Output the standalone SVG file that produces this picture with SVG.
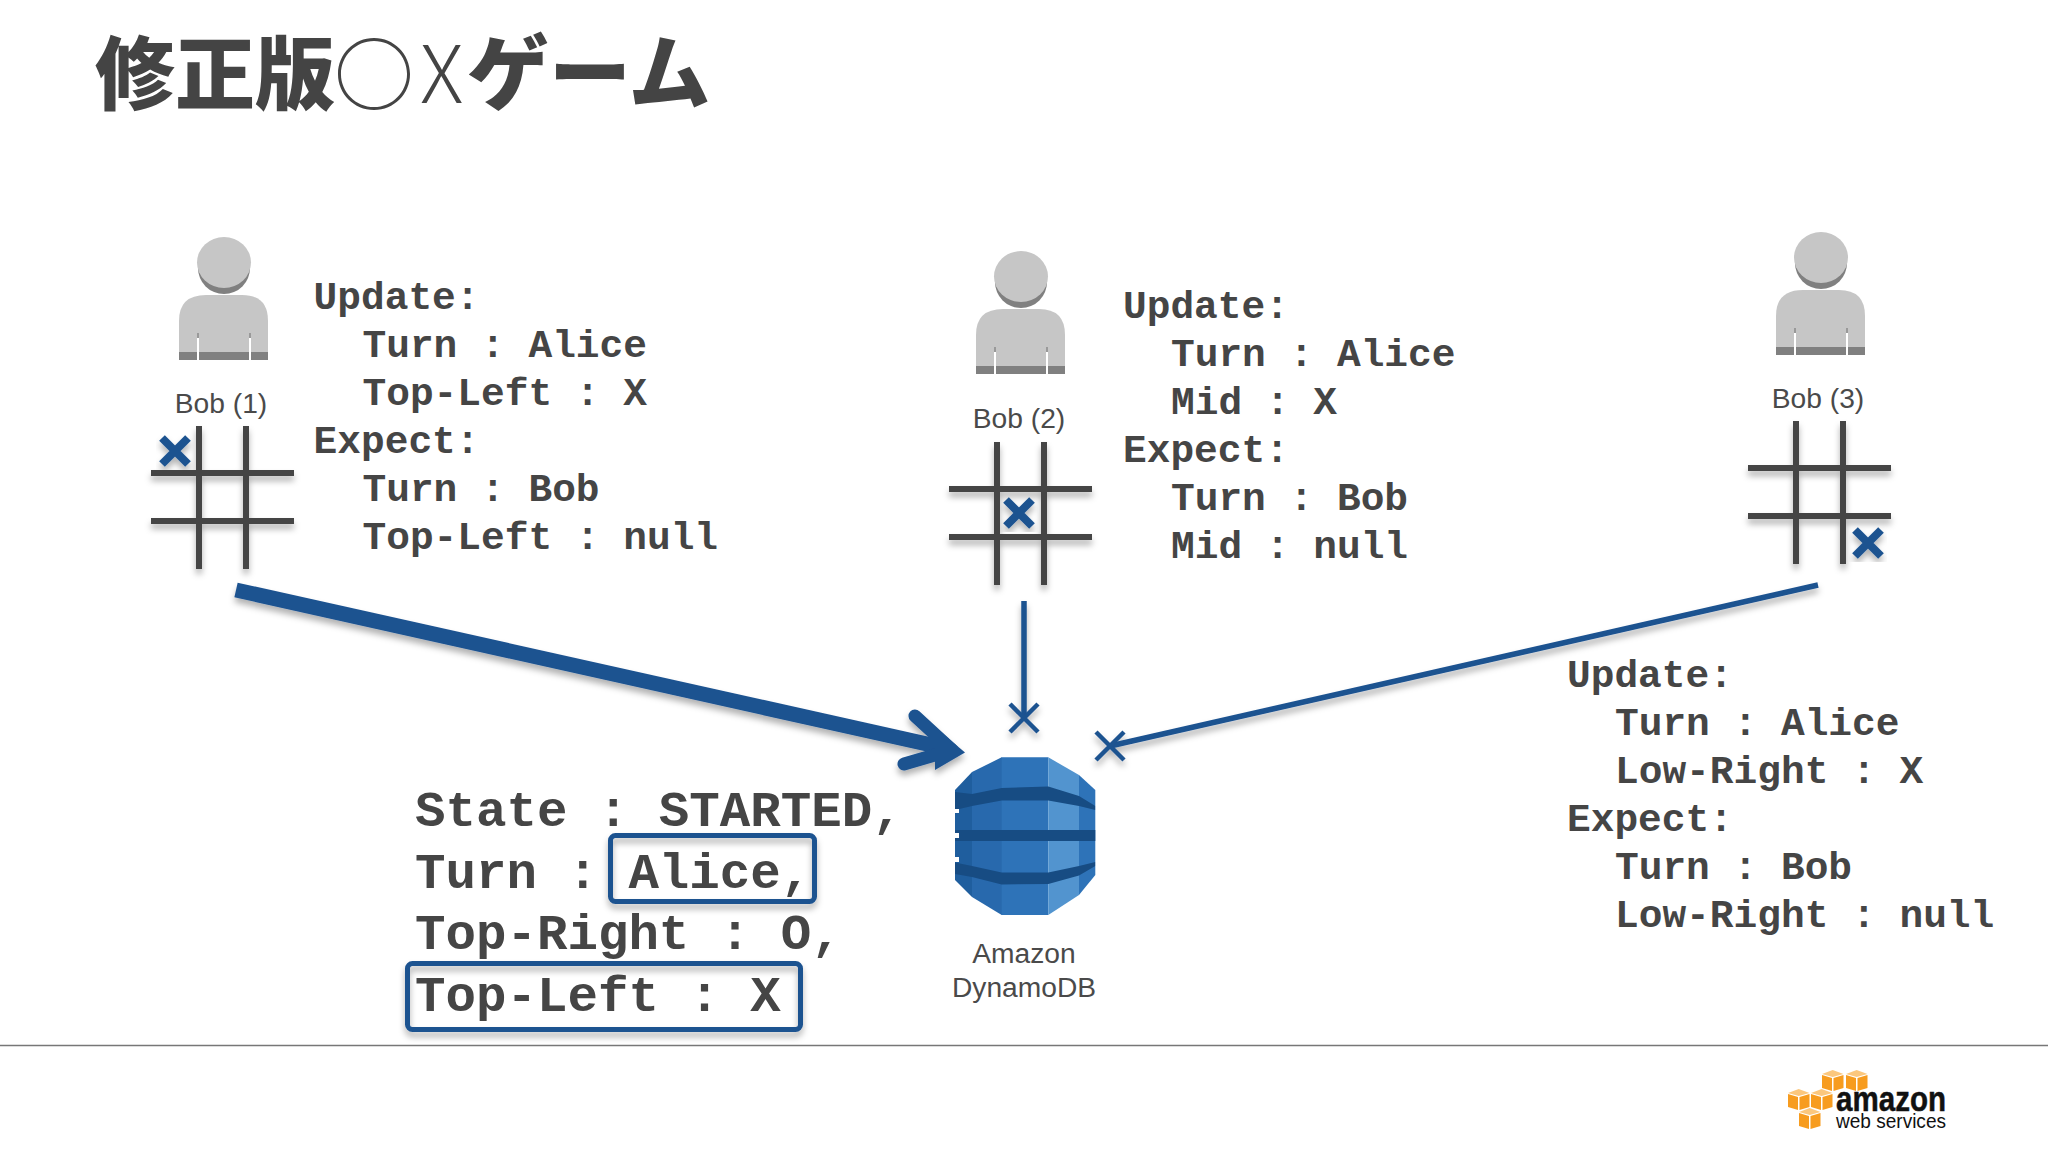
<svg xmlns="http://www.w3.org/2000/svg" width="2048" height="1152" viewBox="0 0 2048 1152">
<style>
.code{font-family:"Liberation Mono",monospace;font-weight:700;font-size:39.5px;fill:#454545}
.state{font-family:"Liberation Mono",monospace;font-weight:700;font-size:50.8px;fill:#454545}
.lbl{font-family:"Liberation Sans",Arial,sans-serif;font-size:28.2px;fill:#4a4a4a;text-anchor:middle}
.tb{font-family:"Noto Sans CJK JP",sans-serif;font-weight:900;font-size:80px;fill:#444}
.tl{font-family:"Noto Sans CJK JP",sans-serif;font-weight:300;font-size:80px;fill:#444}
.gl{stroke:#444;stroke-width:6;fill:none}
.xm{stroke:#1c5290;stroke-width:8;fill:none}
.cx{stroke:#1c5290;stroke-width:4.5;fill:none}
.box{fill:none;stroke:#1c5290;stroke-width:5}
.co{fill:#f79c1f}
.ct{fill:#fbc77d}
</style>
<defs>
<filter id="sh" x="-20%" y="-20%" width="140%" height="140%"><feDropShadow dx="0" dy="5" stdDeviation="3" flood-color="#000" flood-opacity="0.3"/></filter>
<g id="person">
<ellipse cx="0" cy="31" rx="26" ry="26" fill="#808080"/>
<ellipse cx="0" cy="25.5" rx="27" ry="25.5" fill="#c6c6c6"/>
<path d="M-45 123V84Q-45 58-18 58H18Q44 58 44 84V123Z" fill="#c6c6c6"/>
<rect x="-45" y="115" width="89" height="8" fill="#808080"/>
<rect x="-27" y="96" width="2" height="5" fill="#999"/>
<rect x="25" y="96" width="2" height="5" fill="#999"/>
<rect x="-27" y="101" width="2" height="22" fill="#fff"/>
<rect x="25" y="101" width="2" height="22" fill="#fff"/>
</g>
<g id="grid" filter="url(#sh)">
<path class="gl" d="M48 0V143M95 0V143M0 47H143M0 95H143"/>
</g>
<path id="mark" class="xm" d="M-13 -13L13 13M13 -13L-13 13"/>
<g id="cube">
<polygon class="ct" points="0,4 10.7,0 21.5,4 10.7,7"/>
<polygon class="co" points="0,5 10,8 10,21 0,18"/>
<polygon class="co" points="11.5,8 21.5,5 21.5,18 11.5,21"/>
</g>
<clipPath id="ddb"><polygon points="1001.7,757.3 1048.3,757.3 1079,775 1095.3,790 1095.3,875 1079,895 1048.3,915 1001.7,915 972,897 955,880 955,790 972,772"/></clipPath>
</defs>
<rect width="2048" height="1152" fill="#fff"/>

<g id="title">
<text class="tb" x="95" y="102.5">修正版</text>
<text class="tl" x="334" y="104" style="font-weight:400">○</text>
<text class="tl" x="420" y="103">X</text>
<text class="tb" x="467" y="103" style="font-size:82px">ゲーム</text>
</g>

<g id="bob1">
<use href="#person" transform="translate(224,237)"/>
<text class="lbl" x="221" y="413">Bob (1)</text>
<use href="#grid" transform="translate(151,426)"/>
<use href="#mark" transform="translate(175,451)" filter="url(#sh)"/>
<text class="code" x="313.6" y="309">Update:</text>
<text class="code" x="362.5" y="357">Turn : Alice</text>
<text class="code" x="362.5" y="405">Top-Left : X</text>
<text class="code" x="313.6" y="453">Expect:</text>
<text class="code" x="362.5" y="501">Turn : Bob</text>
<text class="code" x="362.5" y="549">Top-Left : null</text>
</g>

<g id="bob2">
<use href="#person" transform="translate(1021,251)"/>
<text class="lbl" x="1019" y="428">Bob (2)</text>
<use href="#grid" transform="translate(949,442)"/>
<use href="#mark" transform="translate(1019,513)" filter="url(#sh)"/>
<text class="code" x="1123" y="318">Update:</text>
<text class="code" x="1171" y="366">Turn : Alice</text>
<text class="code" x="1171" y="414">Mid : X</text>
<text class="code" x="1123" y="462">Expect:</text>
<text class="code" x="1171" y="510">Turn : Bob</text>
<text class="code" x="1171" y="558">Mid : null</text>
</g>

<g id="bob3">
<use href="#person" transform="translate(1821,232)"/>
<text class="lbl" x="1818" y="408">Bob (3)</text>
<use href="#grid" transform="translate(1748,421)"/>
<use href="#mark" transform="translate(1868,543)" filter="url(#sh)"/>
<text class="code" x="1567" y="687">Update:</text>
<text class="code" x="1615" y="735">Turn : Alice</text>
<text class="code" x="1615" y="783">Low-Right : X</text>
<text class="code" x="1567" y="831">Expect:</text>
<text class="code" x="1615" y="879">Turn : Bob</text>
<text class="code" x="1615" y="927">Low-Right : null</text>
</g>

<g id="connectors" filter="url(#sh)">
<path d="M236 590L945 748" fill="none" stroke="#1c5290" stroke-width="15"/>
<path d="M915 716L952 750L904 764" fill="none" stroke="#1c5290" stroke-width="13" stroke-linecap="round" stroke-linejoin="round"/>
<polygon points="965,752.5 935,727 935,770" fill="#1c5290"/>
<path d="M1024 601V718" fill="none" stroke="#1c5290" stroke-width="5.5"/>
<path class="cx" d="M1010 704L1038 732M1038 704L1010 732"/>
<path d="M1818 585L1110 746" fill="none" stroke="#1c5290" stroke-width="5.5"/>
<path class="cx" d="M1096 732L1124 760M1124 732L1096 760"/>
</g>

<g id="dynamodb">
<g clip-path="url(#ddb)">
<rect x="955" y="757" width="17" height="158" fill="#1f5e9e"/>
<rect x="972" y="757" width="30" height="158" fill="#2869ad"/>
<rect x="1001.7" y="757" width="46.6" height="158" fill="#2e73b8"/>
<rect x="1048.3" y="757" width="30.7" height="158" fill="#5294cf"/>
<rect x="1079" y="757" width="17" height="158" fill="#2e73b8"/>
<g fill="#174c83">
<polygon points="955,792 972,794 1001.7,788 1048.3,786.5 1079,796 1095.3,806 1095.3,810 1079,806 1048.3,800.5 1001.7,800.5 972,806 955,810"/>
<rect x="955" y="830" width="141" height="11"/>
<polygon points="955,862.5 972,866 1001.7,872.5 1048.3,872.5 1079,866 1095.3,862 1095.3,866 1079,875.5 1048.3,884 1001.7,884.5 972,877 955,874"/>
</g>
</g>
<g fill="#fff">
<rect x="955" y="809" width="4" height="4"/>
<rect x="955" y="833" width="4" height="5"/>
<rect x="955" y="857" width="4" height="5"/>
</g>
<text class="lbl" x="1024" y="962.5">Amazon</text>
<text class="lbl" x="1024" y="997">DynamoDB</text>
</g>

<g id="state">
<text class="state" x="415" y="826">State : STARTED,</text>
<text class="state" x="415" y="888">Turn : Alice,</text>
<text class="state" x="415" y="949">Top-Right : O,</text>
<text class="state" x="415" y="1011">Top-Left : X</text>
<g filter="url(#sh)">
<rect class="box" x="610.5" y="835.5" width="204" height="66" rx="5"/>
<rect class="box" x="407.5" y="963.5" width="393" height="66" rx="5"/>
</g>
</g>

<line id="rule" x1="0" y1="1045.5" x2="2048" y2="1045.5" stroke="#777" stroke-width="1.5"/>

<g id="aws-logo">
<use href="#cube" x="1822" y="1070"/>
<use href="#cube" x="1846" y="1070"/>
<use href="#cube" x="1788" y="1089"/>
<use href="#cube" x="1811" y="1089"/>
<use href="#cube" x="1799" y="1108"/>
<text x="1836" y="1111" font-family="Liberation Sans,Arial,sans-serif" font-weight="700" font-size="35" fill="#111" stroke="#111" stroke-width="0.5" textLength="110" lengthAdjust="spacingAndGlyphs">amazon</text>
<text x="1836" y="1128" font-family="Liberation Sans,Arial,sans-serif" font-size="21" fill="#111" textLength="110" lengthAdjust="spacingAndGlyphs">web services</text>
</g>
</svg>
